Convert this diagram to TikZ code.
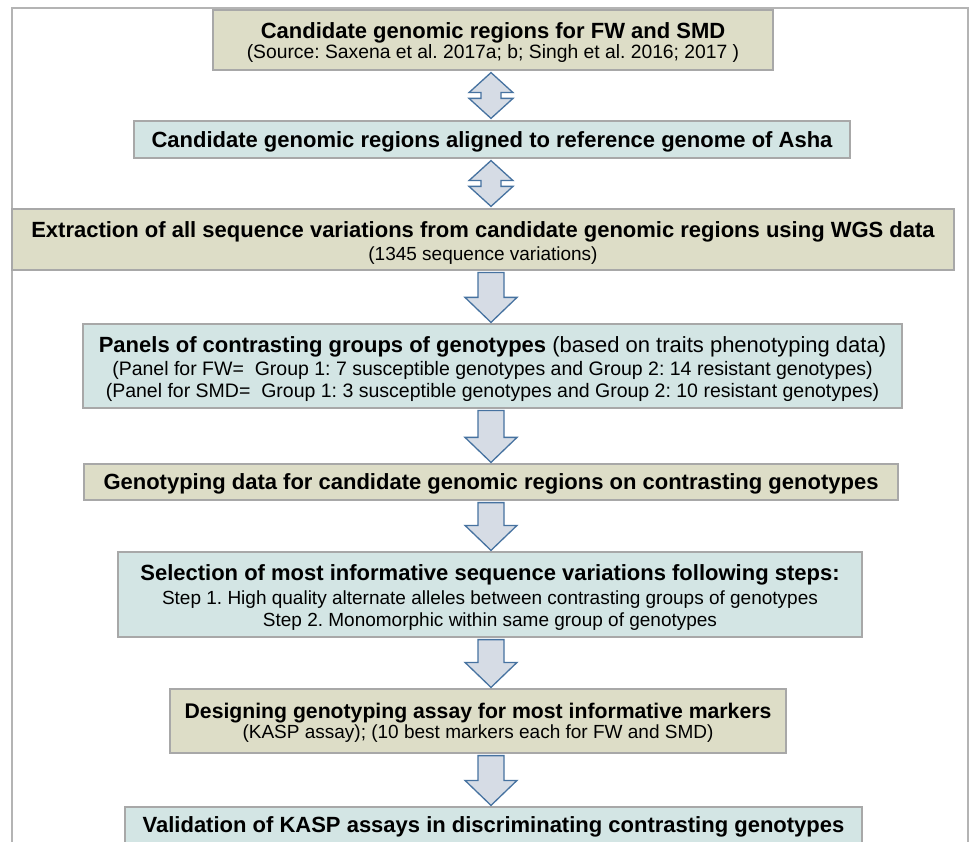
\documentclass[tikz,border=0pt]{standalone}
\usepackage{fontspec}
\setmainfont{Liberation Sans}
\usetikzlibrary{calc}
\definecolor{khaki}{RGB}{221,221,199}
\definecolor{tealbox}{RGB}{211,229,228}
\definecolor{boxline}{RGB}{168,168,168}
\definecolor{arrfill}{RGB}{214,220,229}
\definecolor{arrline}{RGB}{70,114,160}
\definecolor{framecol}{RGB}{180,180,180}
\newcommand\tfont{\fontsize{22}{24}\selectfont\bfseries}
\newcommand\sfont{\fontsize{19}{22}\selectfont}
\newcommand\blkdown[2]{%
  \draw[barrow] let \p1=(#1.south), \p2=(#2.north) in
    ({478pt},{\y1-2pt}) -- ({504pt},{\y1-2pt}) -- ({504pt},{\y2+26pt}) --
    ({517pt},{\y2+26pt}) -- ({491pt},{\y2+1pt}) -- ({465pt},{\y2+26pt}) --
    ({478pt},{\y2+26pt}) -- cycle;}
\newcommand\blkboth[2]{%
  \draw[barrow] let \p1=(#1.south), \p2=(#2.north) in
    ({491pt},{\y1-2pt}) -- ({513pt},{\y1-22pt}) -- ({501pt},{\y1-22pt}) --
    ({501pt},{\y2+22pt}) -- ({513pt},{\y2+22pt}) -- ({491pt},{\y2+2pt}) --
    ({469pt},{\y2+22pt}) -- ({481pt},{\y2+22pt}) -- ({481pt},{\y1-22pt}) --
    ({469pt},{\y1-22pt}) -- cycle;}
\begin{document}
\frenchspacing
\begin{tikzpicture}[x=1pt,y=-1pt,
  box/.style={draw=boxline, line width=1.2pt, inner sep=0pt},
  kbox/.style={box, fill=khaki},
  tbox/.style={box, fill=tealbox},
  btext/.style={inner sep=0pt, align=center, font=\sfont},
  barrow/.style={draw=arrline, fill=arrfill, line width=1.3pt, line join=miter},
  framestyle/.style={draw=framecol, line width=2pt}]
\clip (0,0) rectangle (970,842);
\fill[white] (0,0) rectangle (970,842);
\draw[framestyle] (12,860) -- (12,8) -- (968,8) -- (968,860);

\node[kbox, minimum width=560, minimum height=60] (b1) at (493,40) {};
\node[btext] (t1) at ([yshift=-3pt]b1.center)
  {{\tfont Candidate genomic regions for FW and SMD}\\[-2pt]
   {\fontsize{19.3}{22}\selectfont (Source: Saxena et al. 2017a; b; Singh et al. 2016; 2017 )}};

\node[tbox, minimum width=716, minimum height=37] (b2) at (492,139.5) {};
\node[btext] (t2) at ([yshift=-2pt]b2.center)
  {\tfont Candidate genomic regions aligned to reference genome of Asha};

\node[kbox, minimum width=942, minimum height=61] (b3) at (483,239.5) {};
\node[btext] (t3) at ([yshift=-4pt]b3.center)
  {{\tfont Extraction of all sequence variations from candidate genomic regions using WGS data}\\[1pt]
   (1345 sequence variations)};

\node[tbox, minimum width=819, minimum height=84] (b4) at (492.5,366) {};
\node[btext] (t4) at ([yshift=-3pt]b4.center)
  {{\tfont Panels of contrasting groups of genotypes}{\fontsize{22}{24}\selectfont{} (based on traits phenotyping data)}\\[1pt]
   {\fontsize{19.5}{22}\selectfont (Panel for FW=\ \ Group 1: 7 susceptible genotypes and Group 2: 14 resistant genotypes)}\\
   {\fontsize{19.5}{22}\selectfont (Panel for SMD=\ \ Group 1: 3 susceptible genotypes and Group 2: 10 resistant genotypes)}};

\node[kbox, minimum width=814, minimum height=36] (b5) at (491,482) {};
\node[btext] (t5) at ([yshift=-2pt]b5.center)
  {\tfont Genotyping data for candidate genomic regions on contrasting genotypes};

\node[tbox, minimum width=744, minimum height=85] (b6) at (490,594.5) {};
\node[btext] (t6) at ([yshift=-3pt]b6.center)
  {{\tfont Selection of most informative sequence variations following steps:}\\[2pt]
   Step 1. High quality alternate alleles between contrasting groups of genotypes\\
   Step 2. Monomorphic within same group of genotypes};

\node[kbox, minimum width=616, minimum height=64] (b7) at (478,721) {};
\node[btext] (t7) at ([yshift=-2pt]b7.center)
  {{\fontsize{21.2}{24}\selectfont\bfseries Designing genotyping assay for most informative markers}\\[-2pt]
   (KASP assay); (10 best markers each for FW and SMD)};

\node[tbox, minimum width=737, minimum height=38] (b8) at (493.5,826) {};
\node[btext] (t8) at ([yshift=-1pt]b8.center)
  {\tfont Validation of KASP assays in discriminating contrasting genotypes};

\blkboth{b1}{b2}
\blkboth{b2}{b3}
\blkdown{b3}{b4}
\blkdown{b4}{b5}
\blkdown{b5}{b6}
\blkdown{b6}{b7}
\blkdown{b7}{b8}
\end{tikzpicture}
\end{document}
